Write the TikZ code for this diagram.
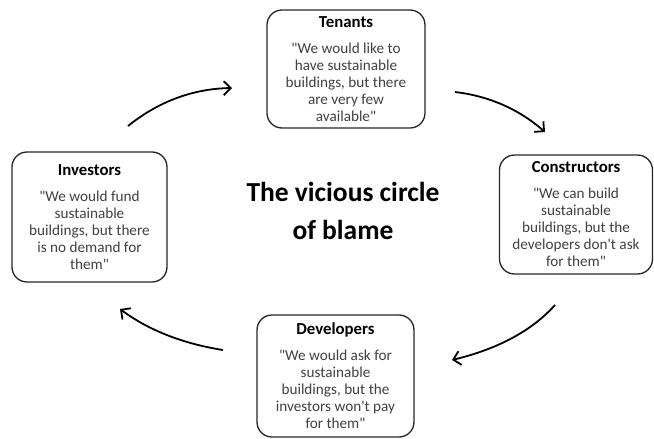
\documentclass[tikz,border=0pt]{standalone}
\usepackage{fontspec}
\setmainfont{Carlito}
\usetikzlibrary{arrows.meta}
\begin{document}
\begin{tikzpicture}[x=1pt,y=-1pt,
  box/.style={draw=black!85, line width=1.3pt, rounded corners=15pt, inner sep=0pt, align=center,
    font=\fontsize{15.2}{17}\selectfont, text=black!75},
  arr/.style={line width=1.8pt, -{Straight Barb[length=7pt,width=14pt]}}]
\useasboundingbox (0,0) rectangle (654,439);
\newcommand{\hd}[1]{{\fontsize{16.8}{17}\selectfont\bfseries\color{black}#1}\\[9pt]}
\newcommand{\qq}{\textquotedbl}
\newcommand{\ap}{\textquotesingle}
\node[box, minimum width=158pt, minimum height=118pt] (tenants) at (346,69)
  {\hd{Tenants}\qq We would like to\\have sustainable\\buildings, but there\\are very few\\available\qq};
\node[box, minimum width=153pt, minimum height=119pt] (constructors) at (576,214.5)
  {\hd{Constructors}\qq We can build\\sustainable\\buildings, but the\\developers don\ap t ask\\for them\qq};
\node[box, minimum width=155pt, minimum height=130pt] (investors) at (89.5,217)
  {\hd{Investors}\qq We would fund\\sustainable\\buildings, but there\\is no demand for\\them\qq};
\node[box, minimum width=157pt, minimum height=122pt] (developers) at (335.5,376)
  {\hd{Developers}\qq We would ask for\\sustainable\\buildings, but the\\investors won\ap t pay\\for them\qq};
\node[align=center, font=\fontsize{27.5}{38}\selectfont\bfseries] (title) at (343,211)
  {The vicious circle\\of blame};
\coordinate (a1s) at (128,126); \coordinate (a1e) at (232,88);
\coordinate (a2s) at (455,92); \coordinate (a2e) at (545,132);
\coordinate (a3s) at (555,305); \coordinate (a3e) at (452,360);
\coordinate (a4s) at (223,350); \coordinate (a4e) at (120,309);
\draw[arr] (a1s) .. controls (158.7,101.3) and (193.3,88.7) .. (a1e);
\draw[arr] (a2s) .. controls (489,96) and (519,109.3) .. (a2e);
\draw[arr] (a3s) .. controls (532,330.7) and (497.7,349) .. (a3e);
\draw[arr] (a4s) .. controls (182.7,343.7) and (148.3,330) .. (a4e);
\end{tikzpicture}
\end{document}
